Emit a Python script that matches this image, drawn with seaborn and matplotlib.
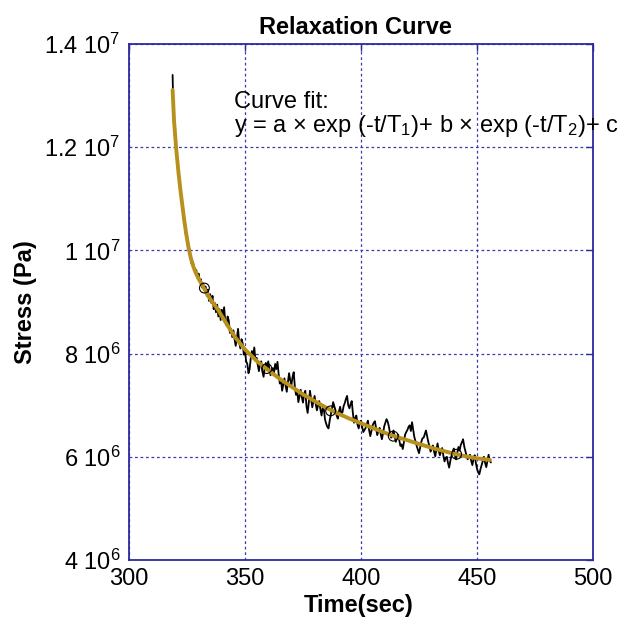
import numpy as np
import pandas as pd
import matplotlib
matplotlib.use("Agg")
import matplotlib.pyplot as plt
import seaborn as sns

# ---------------- data (stress in MPa, x 1e6 Pa) ----------------
# first sample at 318.8 s, then one sample every 0.5 s from 319.0 to 456.0 s
data_first_time = 318.8
data_first_stress = 13.40
data_stress = [
    12.95, 12.44, 12.18, 11.88, 11.70, 11.44, 11.25, 11.00, 10.86, 10.62,   # 319.0
    10.52, 10.30, 10.22, 10.05,                                             # 324.0
    9.97, 9.84, 9.74, 9.78, 9.70, 9.58, 9.62, 9.47, 9.55, 9.40,             # 326.0
    9.44, 9.28, 9.36, 9.24, 9.30, 9.12, 9.24, 9.02, 9.15, 8.98,             # 331.0
    9.12, 8.86, 8.98, 8.80, 8.95, 8.72, 8.86, 8.65, 8.85, 8.70,             # 336.0
    8.90, 8.62, 8.55, 8.72, 8.64, 8.40, 8.48, 8.32, 8.45, 8.28,             # 341.0
    8.15, 8.30, 8.48, 8.22, 8.10, 8.28, 8.20, 7.98, 8.05, 7.85,             # 346.0
    7.80, 7.62, 7.70, 7.92, 8.05, 7.95, 8.12, 7.88, 7.92, 7.78,             # 351.0
    7.66, 7.80, 7.85, 7.65, 7.55, 7.72, 7.82, 7.70, 7.85, 7.72,             # 356.0
    7.58, 7.66, 7.72, 7.62, 7.80, 7.70, 7.84, 7.60, 7.42, 7.50,             # 361.0
    7.28, 7.40, 7.52, 7.38, 7.26, 7.45, 7.62, 7.48, 7.40, 7.55,             # 366.0
    7.64, 7.35, 7.20, 7.28, 7.06, 7.18, 7.30, 7.15, 7.05, 7.22,             # 371.0
    7.28, 6.98, 6.85, 7.05, 7.28, 7.12, 6.96, 7.08, 7.18, 7.02,             # 376.0
    6.90, 7.00, 7.08, 6.92, 6.80, 6.95, 6.92, 6.72, 6.64, 6.58,             # 381.0
    6.55, 6.70, 6.82, 6.95, 7.06, 6.98, 6.90, 6.80, 6.74, 6.88,             # 386.0
    6.97, 6.84, 6.86, 6.98, 7.04, 7.12, 7.18, 7.00, 6.94, 7.02,             # 391.0
    7.08, 6.85, 6.66, 6.75, 6.80, 6.62, 6.55, 6.66, 6.70, 6.58,             # 396.0
    6.48, 6.52, 6.56, 6.64, 6.70, 6.52, 6.40, 6.50, 6.61, 6.66,             # 401.0
    6.69, 6.55, 6.42, 6.50, 6.56, 6.44, 6.34, 6.45, 6.59, 6.66,             # 406.0
    6.73, 6.68, 6.59, 6.46, 6.37, 6.42, 6.51, 6.40, 6.29, 6.36,             # 411.0
    6.43, 6.32, 6.21, 6.24, 6.15, 6.28, 6.43, 6.48, 6.52, 6.58,             # 416.0
    6.61, 6.50, 6.67, 6.52, 6.38, 6.30, 6.21, 6.14, 6.07, 6.18,             # 421.0
    6.29, 6.36, 6.37, 6.44, 6.51, 6.40, 6.29, 6.20, 6.10, 6.16,             # 426.0
    6.22, 6.10, 6.01, 6.14, 6.26, 6.12, 6.03, 6.10, 6.17, 6.02,             # 431.0
    5.91, 5.98, 6.00, 5.88, 5.79, 5.92, 6.02, 6.10, 6.16, 6.04,             # 436.0
    5.95, 6.08, 6.19, 6.12, 6.23, 6.28, 6.34, 6.20, 6.11, 6.02,             # 441.0
    5.95, 6.00, 6.04, 5.92, 5.84, 5.96, 6.03, 5.88, 5.77, 5.70,             # 446.0
    5.66, 5.76, 5.84, 5.92, 6.00, 5.88, 5.80, 5.92, 6.04, 5.92,             # 451.0
    5.89,                                                                   # 456.0
]

fit_time = [318.8, 319.4, 320.3, 321.3, 322.3, 323.7, 324.6, 325.6, 326.6, 327.7,
            328.8, 330, 332, 335, 338.5, 342, 345.7, 350, 355, 360, 365, 370,
            375, 380, 385, 390, 395, 400, 405, 410, 415, 420, 425, 430, 435,
            440, 445, 450, 455.6]
fit_stress = [13.11, 12.52, 11.99, 11.52, 11.12, 10.62, 10.34, 10.07, 9.86, 9.69,
              9.56, 9.45, 9.29, 9.06, 8.84, 8.58, 8.32, 8.08, 7.86, 7.68, 7.51,
              7.36, 7.21, 7.08, 6.95, 6.84, 6.74, 6.65, 6.56, 6.47, 6.39, 6.32,
              6.25, 6.18, 6.12, 6.06, 6.01, 5.97, 5.94]

marker_time = [332.5, 359.4, 386.9, 413.9, 441.2]
marker_stress = [9.27, 7.71, 6.89, 6.40, 6.05]

x_ticks = [300, 350, 400, 450, 500]
y_ticks = [4e6, 6e6, 8e6, 1e7, 1.2e7, 1.4e7]
y_tick_labels = ["4 10$^{6}$", "6 10$^{6}$", "8 10$^{6}$",
                 "1 10$^{7}$", "1.2 10$^{7}$", "1.4 10$^{7}$"]

title = "Relaxation Curve"
x_label = "Time(sec)"
y_label = "Stress (Pa)"
fit_text = ("Curve fit:\n"
            "y = a $\\times$ exp (-t/T$_1$)+ b $\\times$ exp (-t/T$_2$)+ c")

# ---------------- style ----------------
sns.set_style("white")
plt.rcParams["font.family"] = ["Liberation Sans", "DejaVu Sans"]
plt.rcParams["mathtext.fontset"] = "custom"
plt.rcParams["mathtext.rm"] = "Liberation Sans"
plt.rcParams["mathtext.it"] = "Liberation Sans"
plt.rcParams["mathtext.bf"] = "Liberation Sans:bold"
for key in ["text.color", "axes.labelcolor", "xtick.color", "ytick.color"]:
    plt.rcParams[key] = "black"

NAVY = "#2b2b9c"
GRID = "#3a3ab0"
FIT = "#b8901c"
FS = 17

data_time = [data_first_time] + [319.0 + 0.5 * i for i in range(len(data_stress))]
data_all = [data_first_stress] + data_stress

df_data = pd.DataFrame({"t": data_time, "s": np.array(data_all) * 1e6})
df_fit = pd.DataFrame({"t": fit_time, "s": np.array(fit_stress) * 1e6})
df_mark = pd.DataFrame({"t": marker_time, "s": np.array(marker_stress) * 1e6})

fig = plt.figure(figsize=(6.24, 6.23), dpi=100)
ax = fig.add_axes([129 / 624, 1 - 560 / 623, 464 / 624, 516 / 623])

sns.lineplot(data=df_data, x="t", y="s", ax=ax, color="black", lw=1.3,
             sort=False, estimator=None, zorder=3)
sns.lineplot(data=df_fit, x="t", y="s", ax=ax, color=FIT, lw=2.8,
             sort=False, estimator=None, zorder=4)
sns.scatterplot(data=df_mark, x="t", y="s", ax=ax, marker="o", s=50,
                facecolor="none", edgecolor="black", linewidth=0.8, zorder=5)

ax.set_xlim(300, 500)
ax.set_ylim(4e6, 1.4e7)
ax.set_xticks(x_ticks)
ax.set_xticklabels([str(v) for v in x_ticks])
ax.set_yticks(y_ticks)
ax.set_yticklabels(y_tick_labels)

ax.grid(True, color=GRID, linestyle=(0, (2.2, 2.2)), linewidth=0.9)
ax.set_axisbelow(True)
for sp in ax.spines.values():
    sp.set_color(NAVY)
    sp.set_linewidth(1.3)
    sp.set_visible(True)

ax.tick_params(axis="both", which="both", direction="in", length=5,
               color=NAVY, width=1.0, top=True, right=True,
               labelsize=FS, labelcolor="black")
ax.tick_params(axis="x", pad=6)
ax.tick_params(axis="y", pad=6)

ttl = ax.set_title(title, fontsize=FS, fontweight="bold", pad=7)
ttl.set_x((355 - 129) / 464)
ax.set_xlabel(x_label, fontsize=FS, fontweight="bold")
ax.set_ylabel(y_label, fontsize=FS, fontweight="bold")
ax.xaxis.set_label_coords((359 - 129) / 464, (560 - 594) / 516)
ax.yaxis.set_label_coords((37 - 129) / 464, 0.5)

ax.text(345.3, 13.087e6, fit_text, fontsize=FS, va="top", ha="left",
        linespacing=1.0, clip_on=False, zorder=6)

fig.savefig("out.png", dpi=100)
